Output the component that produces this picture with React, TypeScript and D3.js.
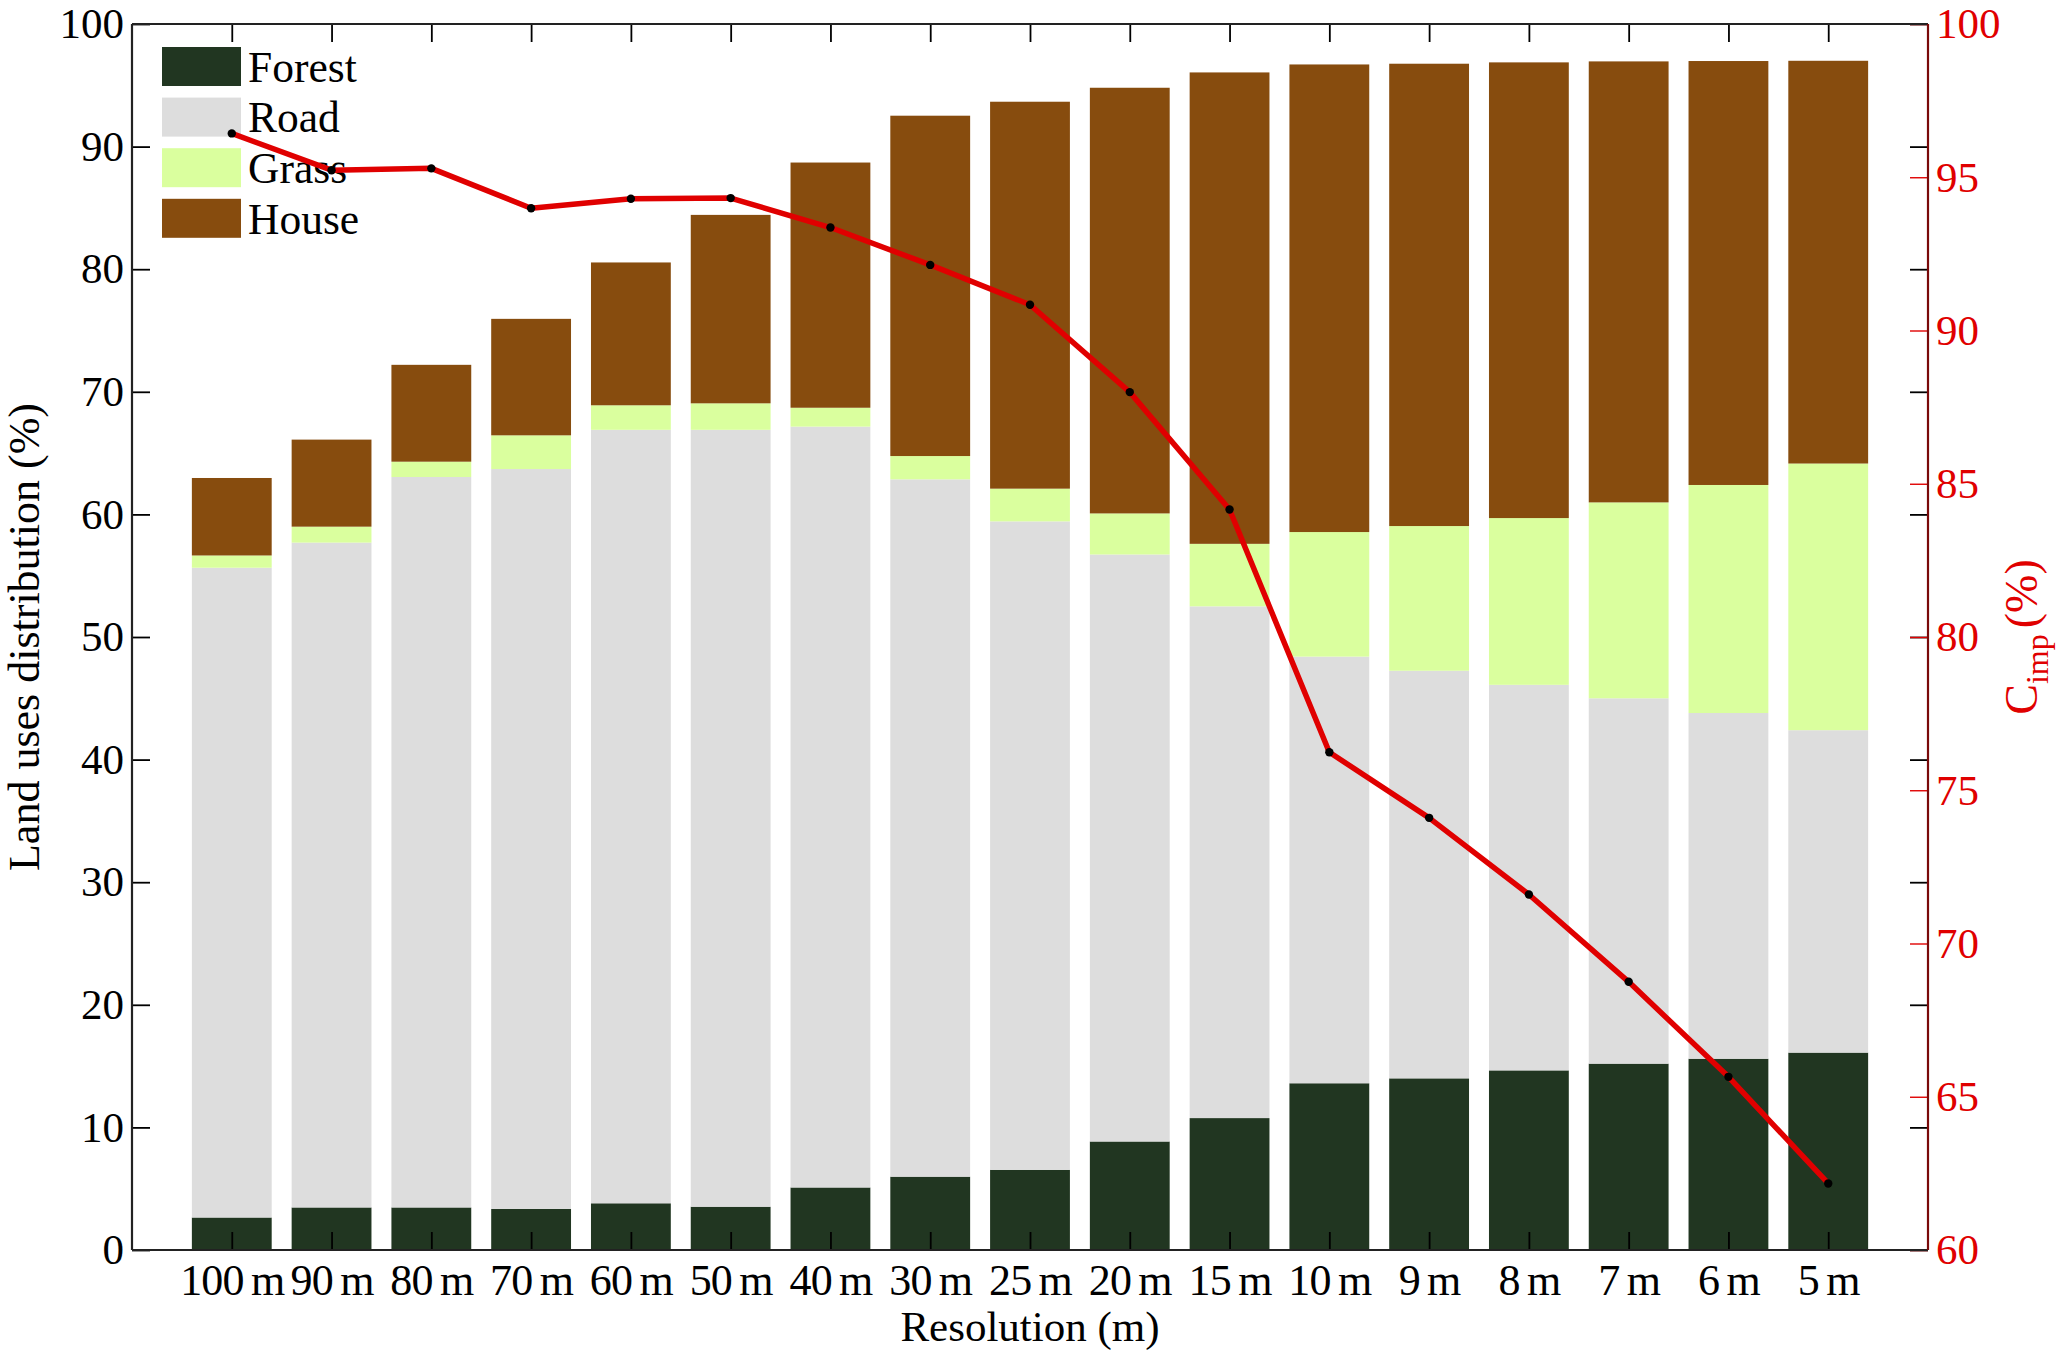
import React, { useRef, useEffect } from "react";
import * as d3 from "d3";

// categories (x axis)
const resolutions = [
  "100 m", "90 m", "80 m", "70 m", "60 m", "50 m", "40 m", "30 m", "25 m",
  "20 m", "15 m", "10 m", "9 m", "8 m", "7 m", "6 m", "5 m",
];

// land use shares (%), stacked bottom to top
const forest = [2.65, 3.47, 3.47, 3.35, 3.81, 3.53, 5.1, 5.98, 6.54, 8.85, 10.76, 13.6, 14.0, 14.65, 15.2, 15.6, 16.1];
const road = [53.0, 54.23, 59.58, 60.35, 63.09, 63.37, 62.06, 56.88, 52.89, 47.88, 41.74, 34.8, 33.25, 31.45, 29.8, 28.2, 26.3];
const grass = [1.0, 1.3, 1.25, 2.75, 2.0, 2.16, 1.54, 1.9, 2.67, 3.35, 5.1, 10.16, 11.8, 13.6, 15.98, 18.6, 21.75];
const house = [6.32, 7.1, 7.9, 9.5, 11.65, 15.37, 20.0, 27.76, 31.56, 34.72, 38.45, 38.14, 37.71, 37.17, 35.97, 34.58, 32.85];

// C_imp (%), right axis
const cImp = [96.43, 95.23, 95.29, 93.99, 94.3, 94.32, 93.36, 92.14, 90.84, 87.99, 84.16, 76.24, 74.1, 71.6, 68.75, 65.65, 62.17];

const seriesNames = ["Forest", "Road", "Grass", "House"];
const seriesColors = ["#213621", "#dddddd", "#daff9e", "#874c0e"];

const leftTicks = [0, 10, 20, 30, 40, 50, 60, 70, 80, 90, 100];
const rightTicks = [60, 65, 70, 75, 80, 85, 90, 95, 100];

const FONT = "'Liberation Serif', 'Times New Roman', serif";

export default function App() {
  const svgRef = useRef<SVGSVGElement>(null);

  useEffect(() => {
    if (!svgRef.current) return;
    document.body.style.margin = "0";

    const width = 2067;
    const height = 1352;
    const plot = { left: 132, right: 1928, top: 24, bottom: 1250 };

    const svg = d3.select(svgRef.current).attr("width", width).attr("height", height);
    svg.selectAll("*").remove();

    svg.append("rect").attr("width", width).attr("height", height).attr("fill", "#fff");

    const x = d3
      .scalePoint<string>()
      .domain(resolutions)
      .range([plot.left, plot.right])
      .padding(1);
    const barW = x.step() * 0.8;

    const yL = d3.scaleLinear().domain([0, 100]).range([plot.bottom, plot.top]);
    const yR = d3.scaleLinear().domain([60, 100]).range([plot.bottom, plot.top]);

    // stacked bars
    const rows = resolutions.map((r, i) => ({
      res: r,
      Forest: forest[i],
      Road: road[i],
      Grass: grass[i],
      House: house[i],
    }));
    const stacked = d3.stack<any>().keys(seriesNames)(rows);

    svg
      .append("g")
      .selectAll("g")
      .data(stacked)
      .join("g")
      .attr("fill", (_d, i) => seriesColors[i])
      .selectAll("rect")
      .data((d) => d)
      .join("rect")
      .attr("x", (d) => (x(d.data.res) || 0) - barW / 2)
      .attr("y", (d) => yL(d[1]))
      .attr("width", barW)
      .attr("height", (d) => yL(d[0]) - yL(d[1]));

    const styleAxis = (g: any, color: string, size: number) => {
      g.attr("font-family", FONT).attr("font-size", size);
      g.selectAll("text").attr("fill", color);
      g.selectAll("line").attr("stroke", color).attr("stroke-width", 1.8);
      g.select(".domain").remove();
    };

    // bottom axis
    const gBottom = svg
      .append("g")
      .attr("transform", `translate(0,${plot.bottom})`)
      .call(d3.axisBottom(x).tickSize(-18).tickSizeOuter(0).tickPadding(14));
    styleAxis(gBottom, "#000", 44);
    gBottom
      .selectAll("text")
      .attr("letter-spacing", -0.8)
      .attr("word-spacing", -3);

    // top axis (ticks only)
    const gTop = svg
      .append("g")
      .attr("transform", `translate(0,${plot.top})`)
      .call(d3.axisTop(x).tickSize(-18).tickSizeOuter(0).tickFormat(() => ""));
    styleAxis(gTop, "#000", 44);

    // left axis
    const gLeft = svg
      .append("g")
      .attr("transform", `translate(${plot.left},0)`)
      .call(d3.axisLeft(yL).tickValues(leftTicks).tickSize(-18).tickSizeOuter(0).tickPadding(8));
    styleAxis(gLeft, "#000", 43);

    // mirrored left ticks on the right side
    const gMirror = svg
      .append("g")
      .attr("transform", `translate(${plot.right},0)`)
      .call(d3.axisRight(yL).tickValues(leftTicks).tickSize(-18).tickSizeOuter(0).tickFormat(() => ""));
    styleAxis(gMirror, "#000", 43);

    // right axis (C_imp)
    const gRight = svg
      .append("g")
      .attr("transform", `translate(${plot.right},0)`)
      .call(d3.axisRight(yR).tickValues(rightTicks).tickSize(-18).tickSizeOuter(0).tickPadding(8));
    styleAxis(gRight, "#e00000", 43);
    gRight.selectAll("line").attr("stroke-width", 1.4);

    // axis frame lines
    const frame = svg.append("g").attr("stroke-width", 2.2);
    frame.append("line").attr("x1", plot.left).attr("x2", plot.right).attr("y1", plot.top).attr("y2", plot.top).attr("stroke", "#222");
    frame.append("line").attr("x1", plot.left).attr("x2", plot.right).attr("y1", plot.bottom).attr("y2", plot.bottom).attr("stroke", "#222");
    frame.append("line").attr("x1", plot.left).attr("x2", plot.left).attr("y1", plot.top).attr("y2", plot.bottom).attr("stroke", "#222");
    frame.append("line").attr("x1", plot.right).attr("x2", plot.right).attr("y1", plot.top).attr("y2", plot.bottom).attr("stroke", "#7a0a0a");

    // legend (no box)
    const legend = svg
      .append("g")
      .selectAll("g")
      .data(seriesNames)
      .join("g")
      .attr("transform", (_d, i) => `translate(162,${47 + i * 50.6})`);
    legend
      .append("rect")
      .attr("width", 79)
      .attr("height", 39)
      .attr("fill", (_d, i) => seriesColors[i]);
    legend
      .append("text")
      .attr("x", 86)
      .attr("y", 19.5)
      .attr("dy", "0.35em")
      .attr("font-family", FONT)
      .attr("font-size", 43.5)
      .attr("fill", "#000")
      .text((d) => d);

    // C_imp line with markers
    const line = d3
      .line<number>()
      .x((_d, i) => x(resolutions[i]) || 0)
      .y((d) => yR(d));
    svg
      .append("path")
      .datum(cImp)
      .attr("d", line)
      .attr("fill", "none")
      .attr("stroke", "#e00000")
      .attr("stroke-width", 5.5)
      .attr("stroke-linejoin", "round");
    svg
      .append("g")
      .selectAll("circle")
      .data(cImp)
      .join("circle")
      .attr("cx", (_d, i) => x(resolutions[i]) || 0)
      .attr("cy", (d) => yR(d))
      .attr("r", 4.2)
      .attr("fill", "#000");

    // axis titles
    svg
      .append("text")
      .attr("x", (plot.left + plot.right) / 2)
      .attr("y", 1341)
      .attr("text-anchor", "middle")
      .attr("font-family", FONT)
      .attr("font-size", 43)
      .attr("fill", "#000")
      .text("Resolution (m)");

    svg
      .append("text")
      .attr("transform", `translate(39,${(plot.top + plot.bottom) / 2}) rotate(-90)`)
      .attr("text-anchor", "middle")
      .attr("font-family", FONT)
      .attr("font-size", 44)
      .attr("fill", "#000")
      .text("Land uses distribution (%)");

    const rLabel = svg
      .append("text")
      .attr("transform", `translate(2037,${(plot.top + plot.bottom) / 2}) rotate(-90)`)
      .attr("text-anchor", "middle")
      .attr("font-family", FONT)
      .attr("font-size", 46)
      .attr("fill", "#e00000");
    rLabel.append("tspan").text("C");
    rLabel.append("tspan").attr("dy", 11).attr("font-size", 32).text("imp");
    rLabel.append("tspan").attr("dy", -11).attr("dx", 6).text("(%)");
  }, []);

  return <svg ref={svgRef} style={{ display: "block" }}></svg>;
}
